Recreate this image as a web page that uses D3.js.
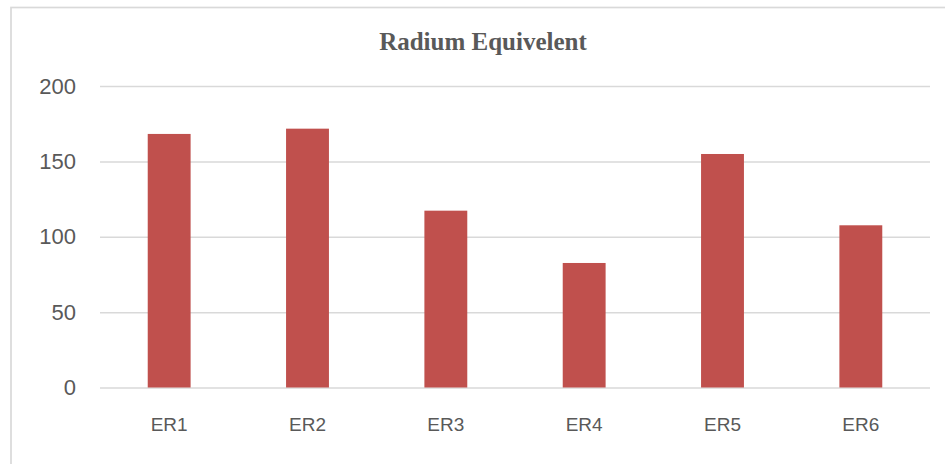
<!DOCTYPE html>
<html>
<head>
<meta charset="utf-8">
<script src="https://cdn.jsdelivr.net/npm/d3@7"></script>
<style>
  body { margin: 0; background: #fff; }
  svg { display: block; }
</style>
</head>
<body>
<div id="chart"></div>
<script>
// data
var categories = ["ER1", "ER2", "ER3", "ER4", "ER5", "ER6"];
var values = [168.2, 171.7, 117.3, 82.6, 154.9, 107.6];
var yTicks = [0, 50, 100, 150, 200];
var chartTitle = "Radium Equivelent";

var svgWidth = 945;
var svgHeight = 464;

var margin = { top: 86, right: 15, bottom: 76.5, left: 100 };
var width = svgWidth - margin.left - margin.right;
var height = svgHeight - margin.top - margin.bottom;

var svg = d3.select("#chart")
  .append("svg")
  .attr("width", svgWidth)
  .attr("height", svgHeight);

// outer chart border (runs off right/bottom edges)
svg.append("rect")
  .attr("x", 11)
  .attr("y", 7.5)
  .attr("width", svgWidth + 20)
  .attr("height", svgHeight + 20)
  .attr("fill", "none")
  .attr("stroke", "#d9d9d9")
  .attr("stroke-width", 1.7);

svg.append("text")
  .attr("x", 483)
  .attr("y", 50)
  .attr("text-anchor", "middle")
  .attr("font-family", "'Liberation Serif', 'Times New Roman', serif")
  .attr("font-weight", "bold")
  .attr("font-size", "25px")
  .attr("fill", "#595959")
  .text(chartTitle);

var chartGroup = svg.append("g")
  .attr("transform", `translate(${margin.left}, ${margin.top})`);

var xScale = d3.scaleBand()
  .domain(categories)
  .range([0, width])
  .paddingInner(0.69)
  .paddingOuter(0.345);

var yScale = d3.scaleLinear()
  .domain([0, 200])
  .range([height, 0]);

// gridlines + y tick labels
var leftAxis = d3.axisLeft(yScale)
  .tickValues(yTicks)
  .tickSize(-width)
  .tickPadding(24)
  .tickFormat(d3.format("d"));

var yAxis = chartGroup.append("g")
  .attr("class", "y-axis")
  .call(leftAxis);

yAxis.select(".domain").remove();
yAxis.selectAll(".tick line")
  .attr("stroke", "#d9d9d9")
  .attr("stroke-width", 1.5);
yAxis.selectAll(".tick text")
  .attr("font-family", "'Liberation Sans', Arial, sans-serif")
  .attr("font-size", "22px")
  .attr("fill", "#595959");

// bars
chartGroup.selectAll("rect.bar")
  .data(values)
  .enter()
  .append("rect")
  .attr("class", "bar")
  .attr("x", (d, i) => xScale(categories[i]))
  .attr("y", d => yScale(d))
  .attr("width", xScale.bandwidth())
  .attr("height", d => height - yScale(d))
  .attr("fill", "#c0504d");

// x axis labels
var bottomAxis = d3.axisBottom(xScale)
  .tickSize(0)
  .tickPadding(30);

var xAxis = chartGroup.append("g")
  .attr("class", "x-axis")
  .attr("transform", `translate(0, ${height})`)
  .call(bottomAxis);

xAxis.select(".domain").remove();
xAxis.selectAll(".tick text")
  .attr("font-family", "'Liberation Sans', Arial, sans-serif")
  .attr("font-size", "19px")
  .attr("fill", "#595959");
</script>
</body>
</html>
